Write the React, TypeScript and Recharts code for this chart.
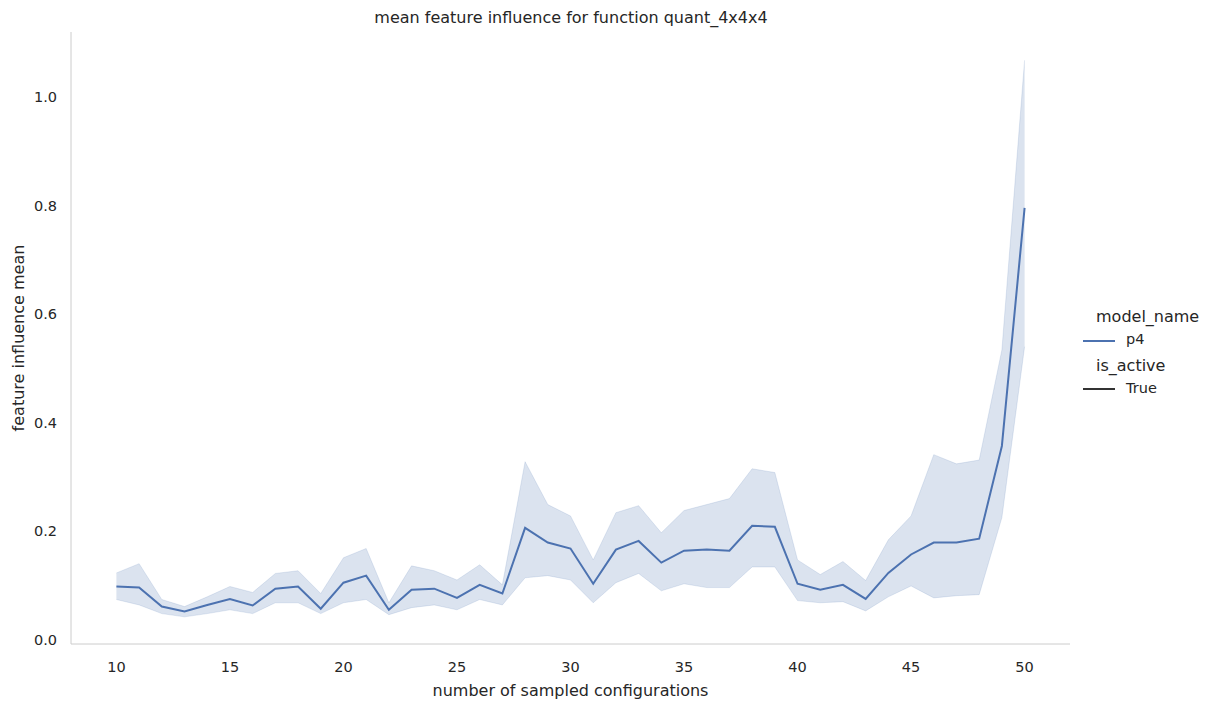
import { ComposedChart, Area, Line, XAxis, YAxis, Label } from 'recharts';

const xs = [10, 11, 12, 13, 14, 15, 16, 17, 18, 19, 20, 21, 22, 23, 24, 25, 26, 27, 28, 29, 30, 31, 32, 33, 34, 35, 36, 37, 38, 39, 40, 41, 42, 43, 44, 45, 46, 47, 48, 49, 50];
const meanVals = [0.098, 0.096, 0.061, 0.052, 0.064, 0.075, 0.063, 0.094, 0.098, 0.057, 0.105, 0.118, 0.055, 0.092, 0.094, 0.077, 0.101, 0.085, 0.206, 0.179, 0.168, 0.103, 0.166, 0.182, 0.142, 0.164, 0.166, 0.164, 0.21, 0.208, 0.103, 0.092, 0.101, 0.075, 0.123, 0.157, 0.179, 0.179, 0.186, 0.357, 0.796];
const upperVals = [0.123, 0.14, 0.074, 0.061, 0.079, 0.098, 0.087, 0.122, 0.127, 0.085, 0.151, 0.168, 0.068, 0.136, 0.127, 0.11, 0.138, 0.101, 0.328, 0.249, 0.228, 0.147, 0.234, 0.247, 0.197, 0.238, 0.249, 0.26, 0.315, 0.308, 0.147, 0.12, 0.144, 0.109, 0.184, 0.228, 0.341, 0.324, 0.331, 0.534, 1.068];
const lowerVals = [0.074, 0.064, 0.048, 0.042, 0.048, 0.055, 0.048, 0.068, 0.068, 0.048, 0.068, 0.074, 0.046, 0.059, 0.064, 0.055, 0.074, 0.064, 0.114, 0.118, 0.11, 0.068, 0.105, 0.122, 0.09, 0.103, 0.096, 0.096, 0.134, 0.134, 0.072, 0.068, 0.07, 0.053, 0.079, 0.099, 0.077, 0.081, 0.083, 0.225, 0.54];
const xTicks = [10, 15, 20, 25, 30, 35, 40, 45, 50];
const yTicks = [0, 0.2, 0.4, 0.6, 0.8, 1.0];

const data = xs.map((x, i) => ({ x, mean: meanVals[i], band: [lowerVals[i], upperVals[i]] }));

const font = '"DejaVu Sans", sans-serif';
const tick = { fill: '#262626', fontSize: 14.5, fontFamily: font };
const labelStyle = { fill: '#262626', fontSize: 16, fontFamily: font };

export default function App() {
  return (
    <div style={{ position: 'absolute', left: 0, top: 0, width: 1216, height: 706, background: '#fff', fontFamily: font }}>
      <div style={{ position: 'absolute', left: 0, width: 1142, top: 8, textAlign: 'center', fontSize: 16, color: '#262626' }}>
        mean feature influence for function quant_4x4x4
      </div>
      <ComposedChart width={1216} height={706} data={data} margin={{ top: 32, right: 146, bottom: 0, left: 0 }}>
        <XAxis dataKey="x" type="number" domain={[8, 52]} ticks={xTicks} height={62} tick={tick}
          stroke="#cccccc" tickLine={false} tickMargin={12}>
          <Label value="number of sampled configurations" position="insideBottom" offset={10} style={labelStyle} />
        </XAxis>
        <YAxis type="number" domain={[-0.008, 1.12]} ticks={yTicks} width={71} tick={tick}
          tickFormatter={(v: number) => v.toFixed(1)} stroke="#cccccc" tickLine={false} tickMargin={8}>
          <Label value="feature influence mean" angle={-90} position="insideLeft" offset={0} style={{ ...labelStyle, textAnchor: 'middle' }} dx={18} />
        </YAxis>
        <Area dataKey="band" type="linear" fill="#4c72b0" fillOpacity={0.2} stroke="#4c72b0" strokeOpacity={0.15} isAnimationActive={false} />
        <Line dataKey="mean" type="linear" stroke="#4c72b0" strokeWidth={2} dot={false} isAnimationActive={false} />
      </ComposedChart>
      <div style={{ position: 'absolute', left: 1096, top: 307, fontSize: 16, color: '#262626' }}>model_name</div>
      <div style={{ position: 'absolute', left: 1083, top: 340, width: 32, height: 2, background: '#4c72b0' }} />
      <div style={{ position: 'absolute', left: 1126, top: 331, fontSize: 14.5, color: '#262626' }}>p4</div>
      <div style={{ position: 'absolute', left: 1096, top: 356, fontSize: 16, color: '#262626' }}>is_active</div>
      <div style={{ position: 'absolute', left: 1083, top: 388, width: 32, height: 2, background: '#333' }} />
      <div style={{ position: 'absolute', left: 1126, top: 380, fontSize: 14.5, color: '#262626' }}>True</div>
    </div>
  );
}
